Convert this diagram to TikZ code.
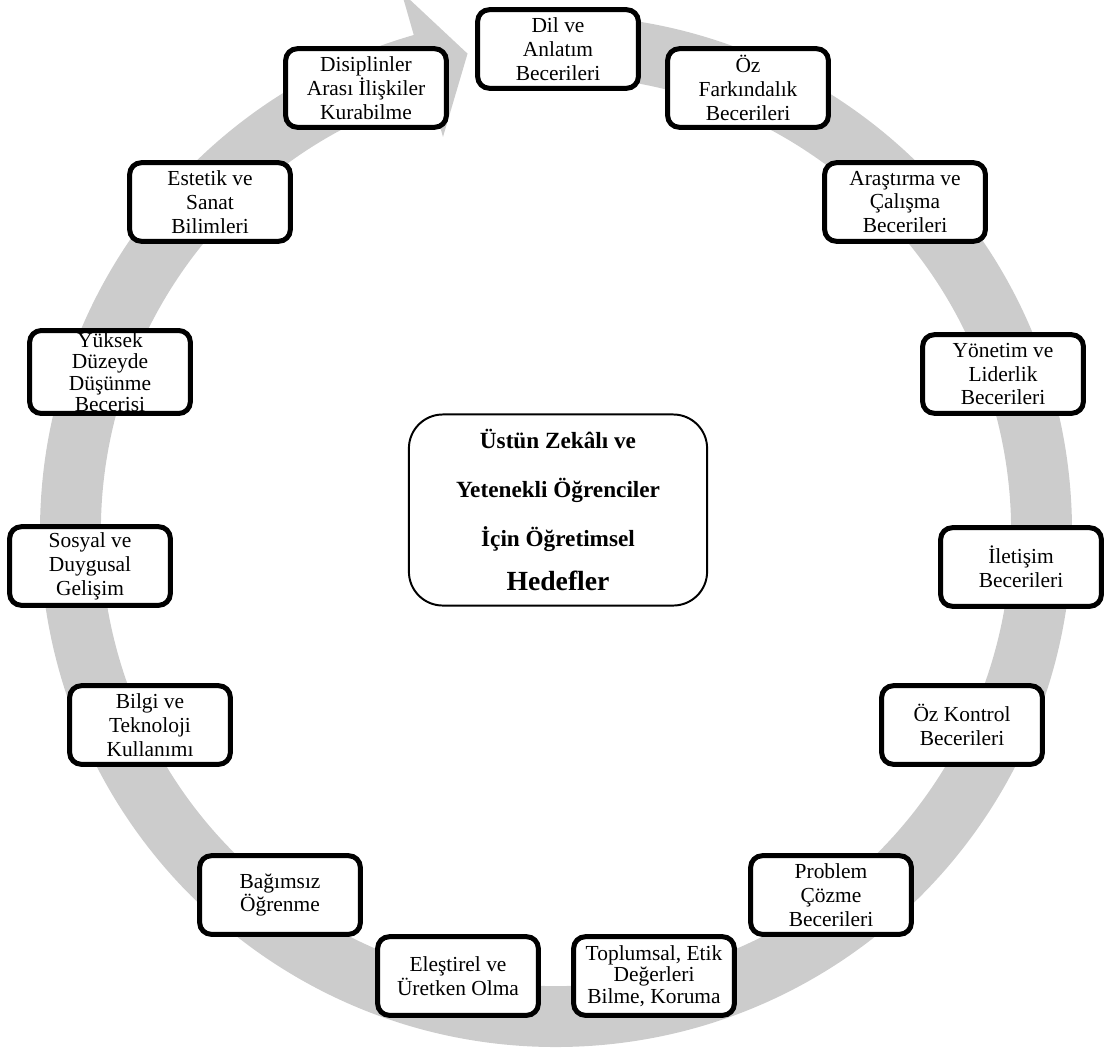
\documentclass[tikz,border=0pt]{standalone}
\usepackage{fontspec}
\setmainfont{Liberation Serif}
\begin{document}
\begin{tikzpicture}[
    x=0.56pt, y=-0.56pt,
    every node/.style={font=\fontsize{12}{13.4}\selectfont}
  ]

  \tikzset{
    kutu/.style={draw=black, fill=white, line width=2.8pt, rounded corners=6.5pt,
      minimum width=90pt, minimum height=44pt, inner sep=1pt, align=center},
    sik/.style={font=\fontsize{12}{12}\selectfont},
    merkez/.style={draw=black, fill=white, line width=1.1pt, rounded corners=19pt,
      minimum width=167pt, minimum height=107pt, inner sep=2pt, align=center,
      font=\fontsize{13}{27.5}\selectfont\bfseries}
  }

  \clip (0,0) rectangle (1106,1047);

  % halka ok
  \begin{scope}[shift={(556,531)}]
    \fill[gray!40] (-92:516) arc[start angle=-92, end angle=254, radius=516]
      -- (254:561) -- (259.5:485.5) -- (254:410) -- (254:455)
      arc[start angle=254, end angle=-92, radius=455] -- cycle;
  \end{scope}

  % merkez
  \node[merkez] (hedef) at (558,510)
    {Üstün Zekâlı ve\\Yetenekli Öğrenciler\\İçin Öğretimsel\\[-3pt]{\fontsize{15.5}{20}\selectfont Hedefler}};

  % kutular
  \node[kutu] (dil) at (558,49) {Dil ve\\Anlatım\\Becerileri};
  \node[kutu] (ozfark) at (748,88) {Öz\\Farkındalık\\Becerileri};
  \node[kutu] (arastirma) at (905,202) {Araştırma ve\\Çalışma\\Becerileri};
  \node[kutu] (yonetim) at (1003,374) {Yönetim ve\\Liderlik\\Becerileri};
  \node[kutu] (iletisim) at (1021,567) {İletişim\\Becerileri};
  \node[kutu] (ozkontrol) at (962,725) {Öz Kontrol\\Becerileri};
  \node[kutu] (problem) at (831,895) {Problem\\Çözme\\Becerileri};
  \node[kutu, sik] (toplumsal) at (654,976) {Toplumsal, Etik\\Değerleri\\Bilme, Koruma};
  \node[kutu] (elestirel) at (458,976) {Eleştirel ve\\Üretken Olma};
  \node[kutu] (bagimsiz) at (280,895) {Bağımsız\\Öğrenme};
  \node[kutu] (bilgi) at (150,725) {Bilgi ve\\Teknoloji\\Kullanımı};
  \node[kutu] (sosyal) at (90,566) {Sosyal ve\\Duygusal\\Gelişim};
  \node[kutu, sik] (yuksek) at (110,372) {Yüksek\\Düzeyde\\Düşünme\\Becerisi};
  \node[kutu] (estetik) at (210,202) {Estetik ve\\Sanat\\Bilimleri};
  \node[kutu] (disiplin) at (366,88) {Disiplinler\\Arası İlişkiler\\Kurabilme};

\end{tikzpicture}
\end{document}
